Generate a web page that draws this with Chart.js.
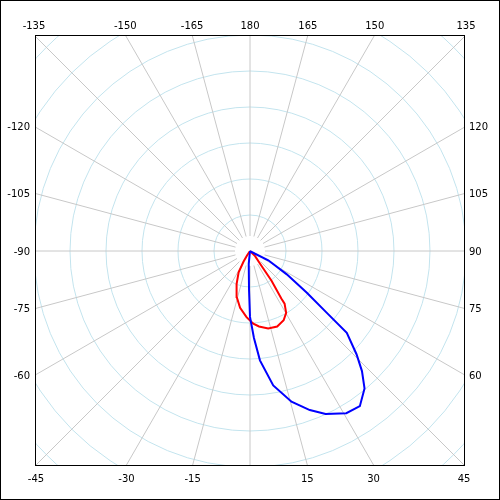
<!DOCTYPE html>
<html lang="en">
<head>
   <meta charset="UTF-8">
   <title>Polar pattern</title>
   <script src="https://cdn.jsdelivr.net/npm/chart.js"></script>
   <style>
     body { margin: 0; background: #fff; }
     #wrap { width: 500px; height: 500px; }
   </style>
</head>
<body>
   <div id="wrap"><canvas id="polarChart" width="500" height="500"></canvas></div>
   <script>
     // angles in degrees (0 = down, 90 = right, 180 = up), radius in ring units
     const blueAngles = [62, 61.6, 63.1, 57.6, 53.7, 51.2, 49.8, 45.9, 43.0, 39.8, 35.3, 30.7, 24.9, 20.6, 15.4, 9.8, 5.2, 2.6, 0, -1.4, -5.6, -6];
     const blueRadii  = [0, 0.16, 0.57, 1.21, 1.96, 2.73, 3.52, 4.12, 4.56, 4.97, 5.28, 5.24, 4.99, 4.72, 4.34, 3.79, 3.05, 2.42, 1.83, 1.09, 0.36, 0];
     const redAngles  = [45, 45, 38, 35.9, 33.4, 33.3, 30.3, 25.9, 19.8, 13.2, 6.8, 2.6, -3, -9.9, -16.1, -22.1, -28.1, -31.3, -33.7, -34];
     const redRadii   = [0, 0.2, 0.5, 1.02, 1.58, 1.75, 1.99, 2.14, 2.23, 2.21, 2.11, 2.02, 1.84, 1.6, 1.33, 0.99, 0.67, 0.35, 0.15, 0];

     const ringValues = [1, 2, 3, 4, 5, 6, 7, 8];
     const spokeAngles = [];
     for (let a = -165; a <= 180; a += 15) spokeAngles.push(a);

     const topLabels    = [-135, -150, -165, 180, 165, 150, 135];
     const rightLabels  = [120, 105, 90, 75, 60];
     const bottomLabels = [-45, -30, -15, 15, 30, 45];
     const leftLabels   = [-120, -105, -90, -75, -60];

     function toXY(angles, radii) {
       return angles.map((a, i) => {
         const t = a * Math.PI / 180;
         return { x: radii[i] * Math.sin(t), y: -radii[i] * Math.cos(t) };
       });
     }

     const polarGrid = {
       id: 'polarGrid',
       beforeDatasetsDraw(chart) {
         const { ctx, chartArea: ca, scales } = chart;
         const cx = scales.x.getPixelForValue(0);
         const cy = scales.y.getPixelForValue(0);
         const unit = scales.x.getPixelForValue(1) - cx;
         ctx.save();
         ctx.beginPath();
         ctx.rect(ca.left, ca.top, ca.right - ca.left, ca.bottom - ca.top);
         ctx.clip();
         ctx.lineWidth = 1;
         ctx.strokeStyle = 'rgb(195,228,238)';
         ringValues.forEach(v => {
           ctx.beginPath();
           ctx.arc(cx, cy, v * unit, 0, Math.PI * 2);
           ctx.stroke();
         });
         ctx.strokeStyle = 'rgb(200,200,200)';
         spokeAngles.forEach(a => {
           const t = a * Math.PI / 180;
           const dx = Math.sin(t), dy = Math.cos(t);
           ctx.beginPath();
           ctx.moveTo(cx + dx * 15, cy + dy * 15);
           ctx.lineTo(cx + dx * 400, cy + dy * 400);
           ctx.stroke();
         });
         ctx.restore();
       },
       afterDraw(chart) {
         const { ctx, chartArea: ca, scales } = chart;
         const cx = scales.x.getPixelForValue(0);
         const cy = scales.y.getPixelForValue(0);
         ctx.save();
         ctx.strokeStyle = '#000';
         ctx.lineWidth = 1;
         ctx.strokeRect(ca.left + 0.5, ca.top + 0.5, ca.right - ca.left - 1, ca.bottom - ca.top);
         ctx.strokeRect(0.5, 0.5, chart.width - 1, chart.height - 1);

         ctx.fillStyle = '#000';
         ctx.font = '10px "DejaVu Sans"';
         const rad = a => a * Math.PI / 180;
         ctx.textAlign = 'center';
         ctx.textBaseline = 'alphabetic';
         topLabels.forEach(a => {
           const t = rad(a);
           const x = cx + (cy - ca.top) * Math.sin(t) / -Math.cos(t);
           ctx.fillText(String(a), x, ca.top - 6);
         });
         bottomLabels.forEach(a => {
           const t = rad(a);
           const x = cx + (ca.bottom - cy) * Math.sin(t) / Math.cos(t);
           ctx.fillText(String(a), x, ca.bottom + 17);
         });
         ctx.textBaseline = 'middle';
         ctx.textAlign = 'left';
         rightLabels.forEach(a => {
           const t = rad(a);
           const y = cy + (ca.right - cx) * Math.cos(t) / Math.sin(t);
           ctx.fillText(String(a), ca.right + 4, y + 1);
         });
         ctx.textAlign = 'right';
         leftLabels.forEach(a => {
           const t = rad(a);
           const y = cy + (cx - ca.left) * Math.cos(t) / -Math.sin(t);
           ctx.fillText(String(a), ca.left - 5, y + 1);
         });
         ctx.restore();
       }
     };

     const ctx = document.getElementById('polarChart').getContext('2d');
     new Chart(ctx, {
       type: 'scatter',
       data: {
         datasets: [{
           label: 'blue',
           data: toXY(blueAngles, blueRadii),
           showLine: true,
           borderColor: '#0000ff',
           borderWidth: 2,
           pointRadius: 0,
           tension: 0
         }, {
           label: 'red',
           data: toXY(redAngles, redRadii),
           showLine: true,
           borderColor: '#ff0000',
           borderWidth: 2,
           pointRadius: 0,
           tension: 0
         }]
       },
       options: {
         responsive: false,
         animation: false,
         layout: { padding: 35 },
         plugins: { legend: { display: false }, tooltip: { enabled: false } },
         scales: {
           x: { display: false, min: -5.972, max: 5.972 },
           y: { display: false, min: -5.944, max: 6.0 }
         }
       },
       plugins: [polarGrid]
     });
   </script>
</body>
</html>
